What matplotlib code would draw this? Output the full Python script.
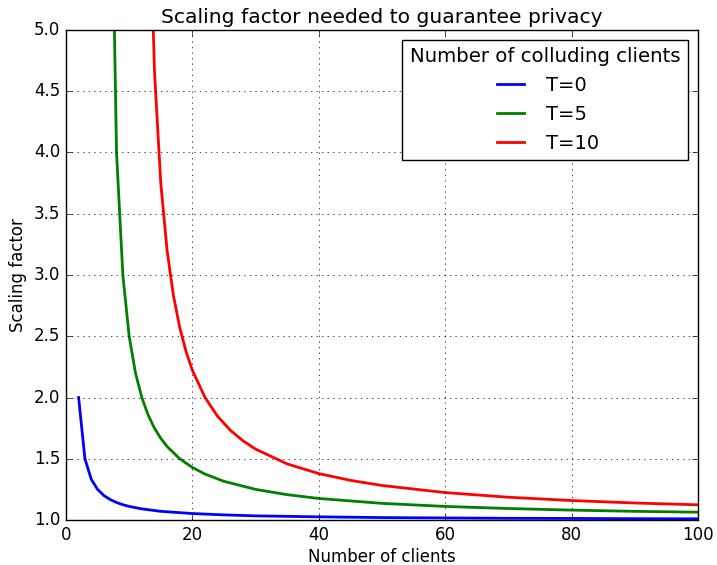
import matplotlib
matplotlib.use('Agg')
import matplotlib.pyplot as plt

# число клиентов и коэффициент масштабирования для каждого T
x_t0 = [2, 3, 4, 5, 6, 7, 8, 9, 10, 12, 15, 20, 25, 30, 40, 50, 60, 70, 80, 90, 100]
y_t0 = [2.0, 1.5, 1.333, 1.25, 1.2, 1.167, 1.143, 1.125, 1.111, 1.091, 1.071, 1.053,
        1.042, 1.034, 1.026, 1.020, 1.017, 1.014, 1.013, 1.011, 1.010]

x_t5 = [7, 8, 9, 10, 11, 12, 13, 14, 15, 16, 18, 20, 22, 25, 30, 35, 40, 50, 60, 70, 80, 90, 100]
y_t5 = [7.0, 4.0, 3.0, 2.5, 2.2, 2.0, 1.857, 1.75, 1.667, 1.6, 1.5, 1.429, 1.375, 1.316,
        1.25, 1.207, 1.176, 1.136, 1.111, 1.094, 1.081, 1.071, 1.064]

x_t10 = [12, 13, 14, 15, 16, 17, 18, 19, 20, 22, 24, 26, 28, 30, 35, 40, 45, 50, 60, 70, 80, 90, 100]
y_t10 = [12.0, 6.5, 4.667, 3.75, 3.2, 2.833, 2.571, 2.375, 2.222, 2.0, 1.846, 1.733, 1.647,
         1.579, 1.458, 1.379, 1.324, 1.282, 1.224, 1.186, 1.159, 1.139, 1.124]

labels = ['T=0', 'T=5', 'T=10']

plt.style.use('classic')
fig = plt.figure(figsize=(7.17, 5.65), dpi=100, facecolor='white')
ax = fig.add_subplot(111)
fig.subplots_adjust(left=0.092, right=0.9735, top=0.947, bottom=0.0796)

ax.plot(x_t0, y_t0, color='b', linewidth=2, label=labels[0])
ax.plot(x_t5, y_t5, color='g', linewidth=2, label=labels[1])
ax.plot(x_t10, y_t10, color='r', linewidth=2, label=labels[2])

ax.set_xlim(0, 100)
ax.set_ylim(1.0, 5.0)
ax.set_yticks([1.0, 1.5, 2.0, 2.5, 3.0, 3.5, 4.0, 4.5, 5.0])
ax.tick_params(labelsize=12)
ax.grid(True)

ax.set_title('Scaling factor needed to guarantee privacy', fontsize=14.6)
ax.set_xlabel('Number of clients', fontsize=12, labelpad=3)
ax.set_ylabel('Scaling factor', fontsize=12)

leg = ax.legend(title='Number of colluding clients', fontsize=14, loc='upper right')
leg.get_title().set_fontsize(14.2)

fig.savefig('out.png', dpi=100, facecolor='white')
